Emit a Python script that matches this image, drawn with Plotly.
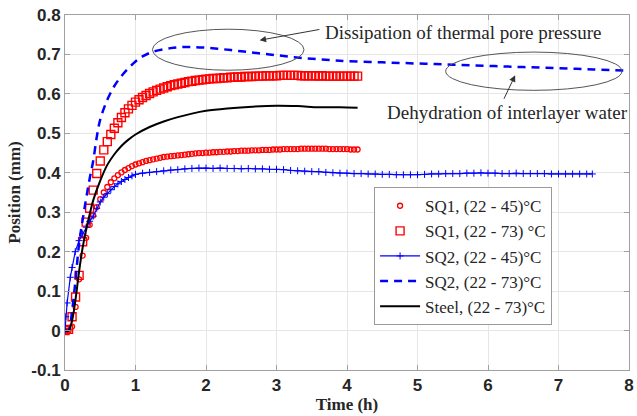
import plotly.graph_objects as go

# ---------------- data ----------------
# common sampling grid for SQ1 series (h)
t_sq1 = [0.00, 0.05, 0.10, 0.15, 0.20, 0.25, 0.30, 0.35, 0.40, 0.45, 0.50, 0.55, 0.60, 0.65,
         0.70, 0.75, 0.80, 0.85, 0.90, 0.95, 1.00, 1.05, 1.10, 1.15, 1.20, 1.25, 1.30, 1.35,
         1.40, 1.45, 1.50, 1.55, 1.60, 1.65, 1.70, 1.75, 1.80, 1.85, 1.90, 1.95, 2.00, 2.05,
         2.10, 2.15, 2.20, 2.25, 2.30, 2.35, 2.40, 2.45, 2.50, 2.55, 2.60, 2.65, 2.70, 2.75,
         2.80, 2.85, 2.90, 2.95, 3.00, 3.05, 3.10, 3.15, 3.20, 3.25, 3.30, 3.35, 3.40, 3.45,
         3.50, 3.55, 3.60, 3.65, 3.70, 3.75, 3.80, 3.85, 3.90, 3.95, 4.00, 4.05, 4.10, 4.15]

sq1_45 = [0.000, 0.000, 0.010, 0.060, 0.130, 0.190, 0.235, 0.268, 0.292, 0.313, 0.333, 0.350,
          0.364, 0.376, 0.386, 0.394, 0.401, 0.407, 0.412, 0.417, 0.421, 0.424, 0.427, 0.430,
          0.432, 0.434, 0.436, 0.438, 0.440, 0.441, 0.442, 0.443, 0.444, 0.445, 0.446, 0.447,
          0.448, 0.449, 0.450, 0.450, 0.451, 0.451, 0.452, 0.452, 0.453, 0.453, 0.454, 0.454,
          0.455, 0.455, 0.456, 0.456, 0.456, 0.457, 0.457, 0.457, 0.458, 0.458, 0.458, 0.459,
          0.459, 0.459, 0.460, 0.460, 0.460, 0.460, 0.460, 0.461, 0.461, 0.461, 0.461, 0.461,
          0.461, 0.461, 0.461, 0.460, 0.460, 0.460, 0.460, 0.460, 0.460, 0.459, 0.459, 0.459]

sq1_73 = [0.000, 0.003, 0.035, 0.085, 0.140, 0.225, 0.275, 0.310, 0.356, 0.398, 0.430, 0.458,
          0.479, 0.497, 0.513, 0.527, 0.540, 0.552, 0.562, 0.571, 0.579, 0.585, 0.591, 0.596,
          0.601, 0.605, 0.609, 0.612, 0.615, 0.618, 0.621, 0.623, 0.625, 0.627, 0.629, 0.631,
          0.632, 0.634, 0.635, 0.636, 0.637, 0.638, 0.639, 0.639, 0.640, 0.641, 0.641, 0.642,
          0.642, 0.643, 0.643, 0.644, 0.644, 0.644, 0.645, 0.645, 0.645, 0.646, 0.646, 0.646,
          0.646, 0.647, 0.647, 0.647, 0.647, 0.647, 0.647, 0.646, 0.646, 0.646, 0.646, 0.646,
          0.645, 0.646, 0.645, 0.645, 0.645, 0.645, 0.645, 0.645, 0.645, 0.645, 0.645, 0.645]

t_sq2_45 = [0.00, 0.01, 0.03, 0.075, 0.10, 0.145, 0.20, 0.25, 0.30, 0.35, 0.40, 0.45, 0.50,
            0.55, 0.60, 0.65, 0.70, 0.75, 0.80, 0.85, 0.90, 0.95, 1.00, 1.1, 1.2, 1.3, 1.4,
            1.5, 1.6, 1.7, 1.8, 1.9, 2.0, 2.1, 2.2, 2.3, 2.4, 2.5, 2.6, 2.7, 2.8, 2.9, 3.0,
            3.1, 3.2, 3.3, 3.4, 3.5, 3.6, 3.7, 3.8, 3.9, 4.0, 4.1, 4.2, 4.3, 4.4, 4.5, 4.6,
            4.7, 4.8, 4.9, 5.0, 5.1, 5.2, 5.3, 5.4, 5.5, 5.6, 5.7, 5.8, 5.9, 6.0, 6.1, 6.2,
            6.3, 6.4, 6.5, 6.6, 6.7, 6.8, 6.9, 7.0, 7.1, 7.2, 7.3, 7.4, 7.48]
sq2_45 = [0.000, 0.035, 0.070, 0.135, 0.160, 0.200, 0.228, 0.245, 0.262, 0.277, 0.290, 0.310,
          0.326, 0.338, 0.347, 0.357, 0.365, 0.372, 0.378, 0.383, 0.388, 0.392, 0.396, 0.399,
          0.401, 0.403, 0.405, 0.407, 0.408, 0.410, 0.411, 0.412, 0.412, 0.411, 0.412, 0.411,
          0.411, 0.410, 0.411, 0.410, 0.410, 0.409, 0.409, 0.408, 0.406, 0.405, 0.404, 0.403,
          0.403, 0.401, 0.400, 0.399, 0.399, 0.398, 0.398, 0.397, 0.397, 0.396, 0.396, 0.395,
          0.395, 0.395, 0.395, 0.396, 0.397, 0.397, 0.398, 0.398, 0.398, 0.399, 0.399, 0.400,
          0.399, 0.399, 0.398, 0.398, 0.399, 0.398, 0.398, 0.398, 0.398, 0.397, 0.397, 0.397,
          0.397, 0.397, 0.397, 0.397]

t_sq2_73 = [0.00, 0.05, 0.10, 0.15, 0.20, 0.25, 0.30, 0.35, 0.40, 0.45, 0.50, 0.60, 0.70,
            0.80, 0.90, 1.00, 1.10, 1.25, 1.50, 1.75, 2.00, 2.25, 2.50, 2.75, 3.00, 3.25,
            3.50, 3.75, 4.00, 4.50, 5.00, 5.50, 6.00, 6.50, 7.00, 7.50, 8.00]
sq2_73 = [0.000, 0.000, 0.050, 0.130, 0.220, 0.280, 0.335, 0.385, 0.430, 0.490, 0.535, 0.585,
          0.620, 0.645, 0.665, 0.682, 0.695, 0.707, 0.716, 0.719, 0.717, 0.713, 0.708, 0.703,
          0.698, 0.693, 0.689, 0.686, 0.683, 0.680, 0.677, 0.674, 0.671, 0.668, 0.665, 0.662,
          0.659]

t_steel = [0.00, 0.05, 0.10, 0.15, 0.20, 0.25, 0.30, 0.35, 0.40, 0.50, 0.60, 0.70, 0.80,
           0.90, 1.00, 1.20, 1.40, 1.60, 1.80, 2.00, 2.30, 2.60, 3.00, 3.30, 3.60, 3.90, 4.15]
steel = [0.000, 0.000, 0.025, 0.080, 0.150, 0.210, 0.255, 0.295, 0.330, 0.380, 0.420, 0.447,
         0.468, 0.484, 0.497, 0.516, 0.530, 0.541, 0.550, 0.557, 0.563, 0.567, 0.570, 0.569,
         0.566, 0.566, 0.565]

x_ticks = [0, 1, 2, 3, 4, 5, 6, 7, 8]
y_ticks = [-0.1, 0, 0.1, 0.2, 0.3, 0.4, 0.5, 0.6, 0.7, 0.8]
y_tick_labels = ["-0.1", "0", "0.1", "0.2", "0.3", "0.4", "0.5", "0.6", "0.7", "0.8"]

names = ["SQ1, (22 - 45)°C", "SQ1, (22 - 73) °C", "SQ2, (22 - 45)°C",
         "SQ2, (22 - 73)°C", "Steel, (22 - 73)°C"]

RED = "#ff0000"
BLUE = "#0000ff"
SERIF = "Liberation Serif"
SANS = "Liberation Sans"

fig = go.Figure()
fig.add_trace(go.Scatter(x=t_sq1, y=sq1_45, mode="markers", name=names[0],
                         marker=dict(symbol="circle-open", size=5, color=RED,
                                     line=dict(width=1.3, color=RED))))
fig.add_trace(go.Scatter(x=t_sq1, y=sq1_73, mode="markers", name=names[1],
                         marker=dict(symbol="square-open", size=8, color=RED,
                                     line=dict(width=1.4, color=RED))))
fig.add_trace(go.Scatter(x=t_sq2_45, y=sq2_45, mode="lines+markers", name=names[2],
                         line=dict(color=BLUE, width=1.2),
                         marker=dict(symbol="cross-thin", size=5, color=BLUE,
                                     line=dict(width=1, color=BLUE))))
fig.add_trace(go.Scatter(x=t_sq2_73, y=sq2_73, mode="lines", name=names[3],
                         line=dict(color=BLUE, width=2.5, dash="8px,6px", shape="spline")))
fig.add_trace(go.Scatter(x=t_steel, y=steel, mode="lines", name=names[4],
                         line=dict(color="black", width=2, shape="spline")))

axis_common = dict(showline=True, linecolor="#a0a0a0", linewidth=1, mirror="ticks",
                   ticks="inside", ticklen=5, tickcolor="#a0a0a0",
                   showgrid=True, gridcolor="#e6e6e6", gridwidth=1, zeroline=False,
                   ticklabeloverflow="allow",
                   tickfont=dict(family=SANS, size=17, color="#262626"))

fig.update_xaxes(range=[0, 8], tickvals=x_ticks,
                 ticktext=["<b>%d</b>" % v for v in x_ticks],
                 title=dict(text="<b>Time (h)</b>", font=dict(family=SERIF, size=17, color="#262626"),
                            standoff=2),
                 **axis_common)
fig.update_yaxes(range=[-0.1, 0.8], tickvals=y_ticks,
                 ticktext=["<b>%s</b>" % s for s in y_tick_labels],
                 title=dict(text="<b>Position (mm)</b>", font=dict(family=SERIF, size=17, color="#262626"),
                            standoff=6),
                 **axis_common)

ann_font = dict(family=SERIF, size=19, color="#262626")
fig.update_layout(
    width=637, height=416,
    margin=dict(l=65, r=3, t=15, b=46),
    paper_bgcolor="white", plot_bgcolor="white",
    showlegend=True,
    legend=dict(x=0.548, y=0.515, xanchor="left", yanchor="top",
                bgcolor="white", bordercolor="#9a9a9a", borderwidth=1,
                font=dict(family=SERIF, size=17, color="#262626"),
                itemwidth=40),
    shapes=[
        dict(type="circle", xref="x", yref="y", x0=1.24, x1=3.39, y0=0.660, y1=0.764,
             line=dict(color="#555555", width=1)),
        dict(type="circle", xref="x", yref="y", x0=5.40, x1=7.90, y0=0.609, y1=0.706,
             line=dict(color="#555555", width=1)),
    ],
    annotations=[
        dict(text="Dissipation of thermal pore pressure", x=3.66, y=0.756, xref="x", yref="y",
             xanchor="left", yanchor="middle", showarrow=False, font=ann_font),
        dict(text="Dehydration of interlayer water", x=4.54, y=0.553, xref="x", yref="y",
             xanchor="left", yanchor="middle", showarrow=False, font=ann_font),
        dict(text="", x=2.76, y=0.736, ax=3.63, ay=0.764, xref="x", yref="y",
             axref="x", ayref="y", showarrow=True, arrowhead=2, arrowsize=1.3,
             arrowwidth=1, arrowcolor="#333333"),
        dict(text="", x=6.385, y=0.647, ax=6.217, ay=0.584, xref="x", yref="y",
             axref="x", ayref="y", showarrow=True, arrowhead=2, arrowsize=1.3,
             arrowwidth=1, arrowcolor="#333333"),
    ],
)

fig.write_html("out.html")
